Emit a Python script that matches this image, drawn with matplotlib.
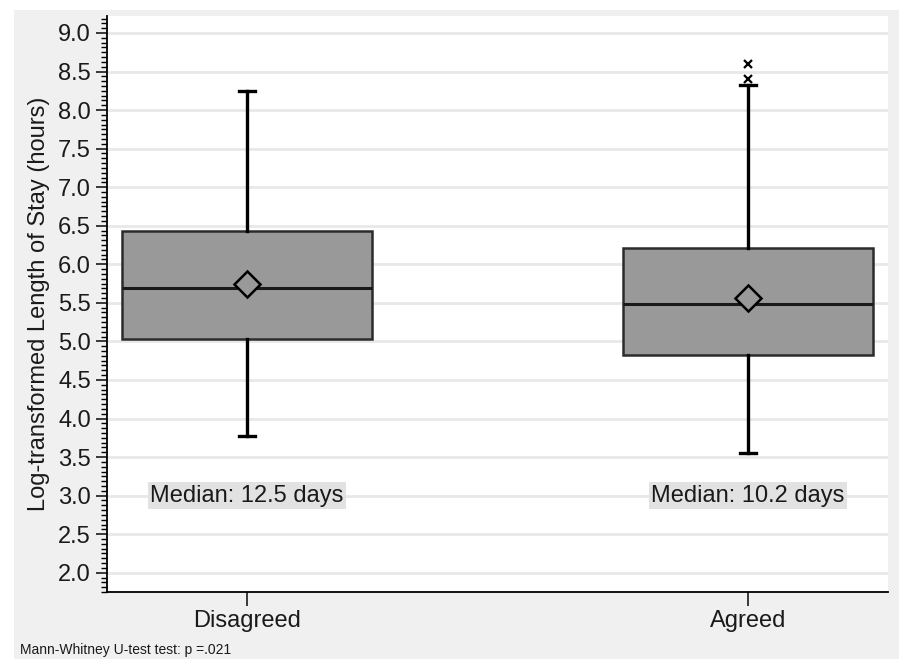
import matplotlib.pyplot as plt
from matplotlib.patches import Rectangle
from matplotlib.ticker import MultipleLocator

groups = ["Disagreed", "Agreed"]
q1 = [5.03, 4.82]
medians = [5.69, 5.48]
q3 = [6.43, 6.21]
means = [5.75, 5.56]
whis_lo = [3.77, 3.55]
whis_hi = [8.25, 8.32]
outliers = [[], [8.40, 8.60]]
median_labels = ["Median: 12.5 days", "Median: 10.2 days"]
footnote = "Mann-Whitney U-test test: p =.021"

plt.rcParams['font.family'] = ['Liberation Sans', 'DejaVu Sans']

fig = plt.figure(figsize=(8.99, 6.59), dpi=100)
fig.patch.set_facecolor('white')
fig.patches.append(Rectangle((14 / 899, 0), 1, 1 - 10 / 659, transform=fig.transFigure,
                             facecolor='#f0f0f0', edgecolor='none', zorder=-10))
ax = fig.add_axes([107 / 899, 1 - 592 / 659, 781 / 899, 576 / 659])

stats = []
for i, g in enumerate(groups):
    stats.append(dict(label=g, q1=q1[i], med=medians[i], q3=q3[i], mean=means[i],
                      whislo=whis_lo[i], whishi=whis_hi[i], fliers=outliers[i]))

pos = [1, 2]
ax.bxp(stats, positions=pos, widths=0.5, capwidths=0.032, showmeans=True,
       patch_artist=True,
       boxprops=dict(facecolor='#999999', edgecolor='#2b2b2b', linewidth=1.8),
       medianprops=dict(color='#1a1a1a', linewidth=2.2),
       whiskerprops=dict(color='black', linewidth=2.4),
       capprops=dict(color='black', linewidth=2.4),
       meanprops=dict(marker='D', markerfacecolor='#999999', markeredgecolor='black',
                      markeredgewidth=1.8, markersize=13),
       flierprops=dict(marker='x', markeredgecolor='black', markersize=6,
                       markeredgewidth=1.6))

for i, lab in enumerate(median_labels):
    ax.text(pos[i], 3.0, lab, ha='center', va='center', fontsize=17, color='#1a1a1a',
            bbox=dict(facecolor='#e2e2e2', edgecolor='none', pad=1.5))

ax.set_xlim(0.72, 2.28)
ax.set_ylim(1.75, 9.22)
ax.yaxis.set_major_locator(MultipleLocator(0.5))
ax.yaxis.set_minor_locator(MultipleLocator(0.0625))
ax.set_yticks([2.0 + 0.5 * k for k in range(15)])
ax.set_yticklabels([f"{2.0 + 0.5 * k:.1f}" for k in range(15)])
ax.set_xticks(pos)
ax.set_xticklabels(groups)
ax.tick_params(axis='both', labelsize=17, colors='#1a1a1a')
ax.tick_params(axis='y', which='major', length=8, width=1.2)
ax.tick_params(axis='y', which='minor', length=4, width=1)
ax.tick_params(axis='x', which='major', length=10, width=1.2, pad=3)
ax.grid(axis='y', color='#e8e8e8', linewidth=2)
ax.set_axisbelow(True)
ax.spines['top'].set_visible(False)
ax.spines['right'].set_visible(False)
ax.spines['left'].set_linewidth(1.3)
ax.spines['bottom'].set_linewidth(1.3)
ax.set_ylabel("Log-transformed Length of Stay (hours)", fontsize=17, color='#1a1a1a', labelpad=6)

fig.text(20 / 899, 1 - 654 / 659, footnote, fontsize=10, color='#1a1a1a', va='baseline')

fig.savefig("out.png", dpi=100)
